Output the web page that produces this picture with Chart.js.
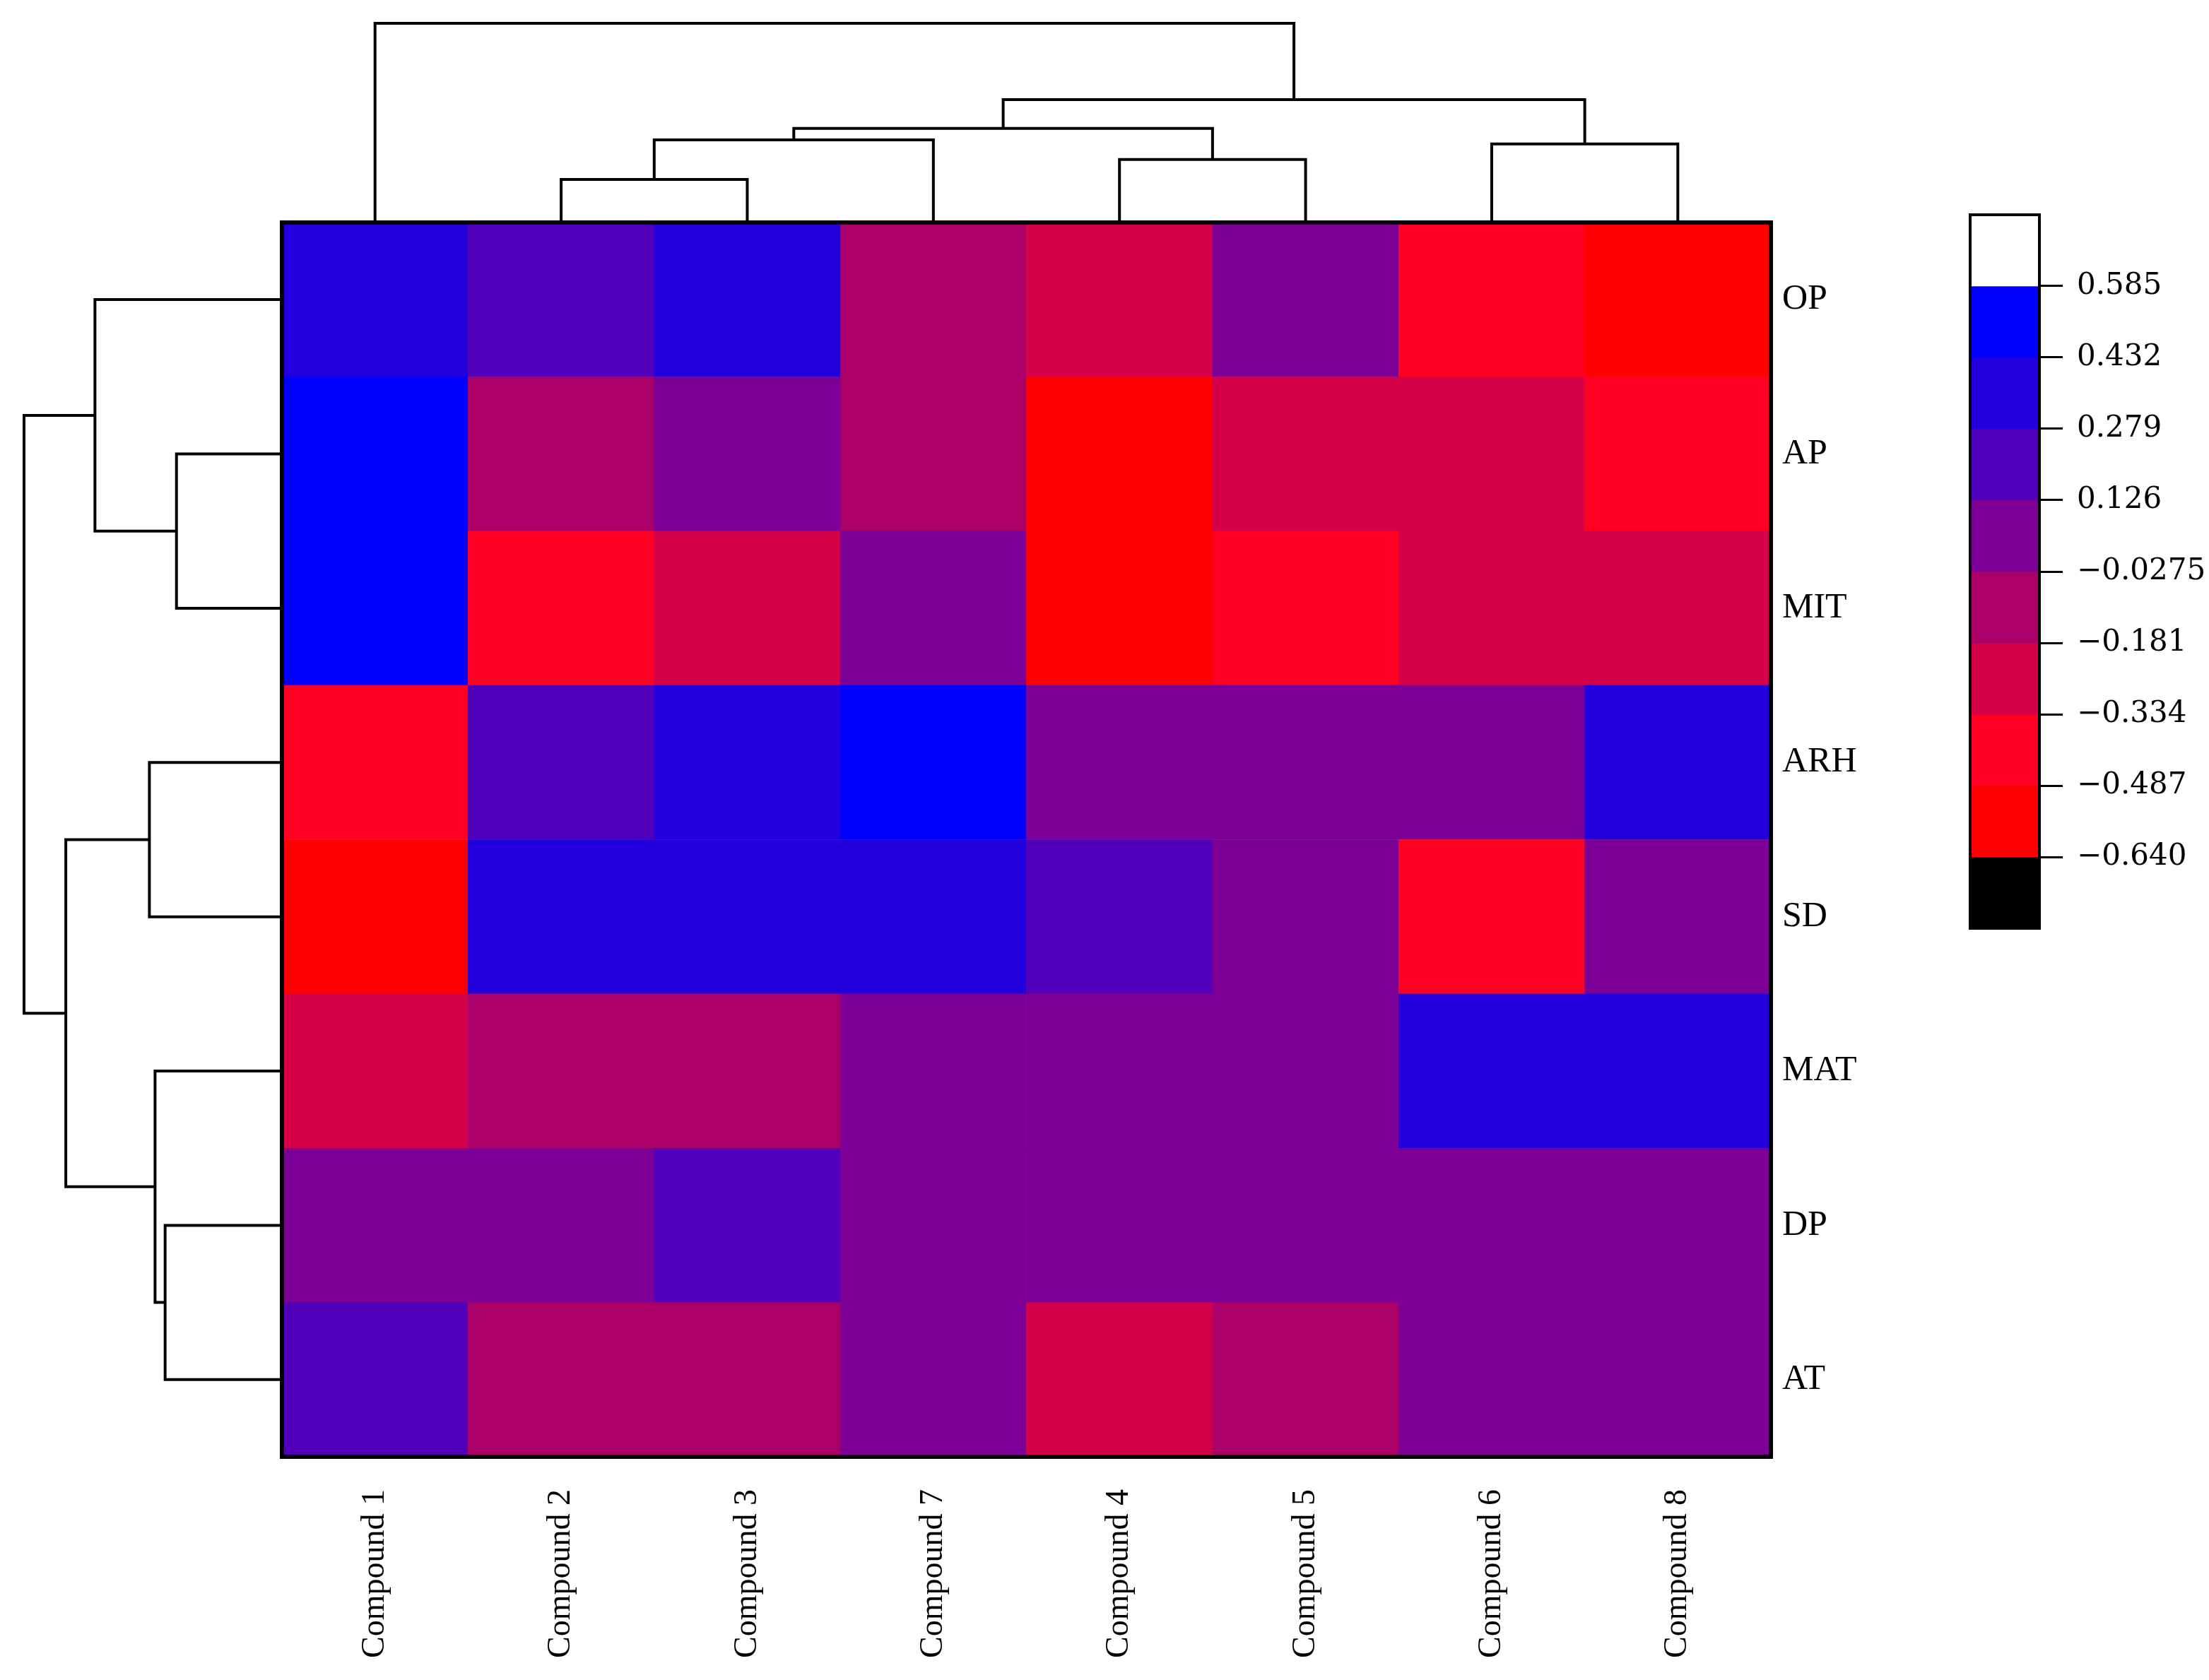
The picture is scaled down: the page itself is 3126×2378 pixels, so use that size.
<!DOCTYPE html>
<html>
<head>
<meta charset="utf-8">
<script src="https://cdn.jsdelivr.net/npm/chart.js@4.4.1/dist/chart.umd.min.js"></script>
<style>
  body { margin: 0; background: #fff; }
  #wrap { position: relative; width: 3126px; height: 2378px; background: #fff; }
  #heat { position: absolute; left: 0; top: 0; }
  #bar { position: absolute; left: 2700px; top: 250px; }
</style>
</head>
<body>
<div id="wrap">
  <canvas id="heat" width="2750" height="2378"></canvas>
  <canvas id="bar" width="426" height="1150"></canvas>
</div>
<script>
// columns and rows in the clustered (displayed) order
const compounds = ['Compound 1', 'Compound 2', 'Compound 3', 'Compound 7', 'Compound 4', 'Compound 5', 'Compound 6', 'Compound 8'];
const traits = ['OP', 'AP', 'MIT', 'ARH', 'SD', 'MAT', 'DP', 'AT'];

// one row per trait, one value per compound
const opVals  = [0.36, 0.21, 0.38, -0.11, -0.25, 0.04, -0.42, -0.57];
const apVals  = [0.52, -0.12, 0.05, -0.10, -0.58, -0.26, -0.24, -0.41];
const mitVals = [0.50, -0.43, -0.27, 0.03, -0.60, -0.45, -0.22, -0.25];
const arhVals = [-0.40, 0.19, 0.33, 0.55, 0.06, 0.07, 0.05, 0.36];
const sdVals  = [-0.59, 0.37, 0.35, 0.34, 0.17, 0.04, -0.44, 0.07];
const matVals = [-0.28, -0.13, -0.12, 0.08, 0.09, 0.08, 0.34, 0.33];
const dpVals  = [0.08, 0.07, 0.18, 0.07, 0.06, 0.07, 0.08, 0.07];
const atVals  = [0.19, -0.14, -0.12, 0.04, -0.26, -0.09, 0.06, 0.05];
const values = [opVals, apVals, mitVals, arhVals, sdVals, matVals, dpVals, atVals];

// linkage: [child a, child b, merge distance]; leaves are 0..7, new clusters numbered from 8
const colLinks = [[1, 2, 0.216], [8, 3, 0.415], [4, 5, 0.316], [9, 10, 0.472], [6, 7, 0.394], [11, 12, 0.617], [0, 13, 1.0]];
const rowLinks = [[1, 2, 0.409], [0, 8, 0.725], [3, 4, 0.514], [6, 7, 0.453], [5, 11, 0.492], [10, 12, 0.838], [9, 13, 1.0]];

// colour key
const cbTicks = [0.585, 0.432, 0.279, 0.126, -0.0275, -0.181, -0.334, -0.487, -0.640];
const cbLabels = ['0.585', '0.432', '0.279', '0.126', '\u22120.0275', '\u22120.181', '\u22120.334', '\u22120.487', '\u22120.640'];
const cbColors = ['#FFFFFF', '#0000FF', '#2200DD', '#5000B9', '#7C0096', '#AA0068', '#D4004A', '#FF0022', '#FF0000', '#000000'];

const topSpan = 1.291;   // room above the grid for the column tree, in row units
const leftSpan = 1.386;  // room left of the grid for the row tree, in column units

function colorFor(v) {
  for (let i = 0; i < cbTicks.length; i++) {
    if (v >= cbTicks[i]) return cbColors[i];
  }
  return cbColors[cbColors.length - 1];
}

function dendroLines(links, nLeaves, place) {
  const pos = [], ht = [];
  for (let i = 0; i < nLeaves; i++) { pos.push(i + 0.5); ht.push(0); }
  return links.map(([a, b, h]) => {
    pos.push((pos[a] + pos[b]) / 2);
    ht.push(h);
    return [place(pos[a], ht[a]), place(pos[a], h), place(pos[b], h), place(pos[b], ht[b])];
  });
}

const cells = [], cellColors = [];
values.forEach((row, r) => {
  row.forEach((v, c) => {
    cells.push({ x: c + 0.5, y: [7 - r, 8 - r] });
    cellColors.push(colorFor(v));
  });
});

const colTree = dendroLines(colLinks, compounds.length, (p, h) => ({ x: p, y: 8 + h * topSpan }));
const rowTree = dendroLines(rowLinks, traits.length, (p, h) => ({ x: -h * leftSpan, y: 8 - p }));

const lineSets = colTree.concat(rowTree).map(pts => ({
  type: 'line',
  data: pts,
  borderColor: '#000',
  borderWidth: 4,
  pointRadius: 0,
  fill: false,
  tension: 0,
  clip: false
}));

const heatBox = {
  id: 'heatBox',
  afterDatasetsDraw(chart) {
    const { ctx, scales: { x, y } } = chart;
    const x0 = x.getPixelForValue(0), x1 = x.getPixelForValue(8);
    const y0 = y.getPixelForValue(8), y1 = y.getPixelForValue(0);
    ctx.save();
    ctx.strokeStyle = '#000';
    ctx.lineWidth = 6;
    ctx.strokeRect(x0, y0, x1 - x0, y1 - y0);
    ctx.restore();
  }
};

new Chart(document.getElementById('heat'), {
  type: 'bar',
  data: {
    datasets: [{
      data: cells,
      backgroundColor: cellColors,
      borderWidth: 0,
      grouped: false,
      barPercentage: 1,
      categoryPercentage: 1
    }].concat(lineSets)
  },
  options: {
    responsive: false,
    animation: false,
    layout: { padding: { top: 33, left: 34, right: 0, bottom: 0 } },
    plugins: { legend: { display: false }, tooltip: { enabled: false } },
    scales: {
      x: {
        type: 'linear',
        min: -leftSpan,
        max: 8,
        offset: false,
        position: 'bottom',
        grid: { display: false, drawTicks: false },
        border: { display: false },
        afterBuildTicks: s => { s.ticks = compounds.map((_, i) => ({ value: i + 0.5 })); },
        afterFit: s => { s.height = 316; s.paddingLeft = 0; s.paddingRight = 0; },
        ticks: {
          autoSkip: false,
          minRotation: 90,
          maxRotation: 90,
          padding: 46,
          color: '#000',
          font: { family: 'Liberation Serif', size: 46 },
          callback: (v, i) => compounds[i]
        }
      },
      y: {
        type: 'linear',
        min: 0,
        max: 8 + topSpan,
        position: 'right',
        grid: { display: false, drawTicks: false },
        border: { display: false },
        afterBuildTicks: s => { s.ticks = traits.map((_, i) => ({ value: 7.5 - i })); },
        afterFit: s => { s.width = 244; s.paddingTop = 0; s.paddingBottom = 0; },
        ticks: {
          autoSkip: false,
          padding: 16,
          color: '#000',
          font: { family: 'Liberation Serif', size: 50 },
          callback: (v, i) => traits[i]
        }
      }
    }
  },
  plugins: [heatBox]
});

// colour key bands: one band above the first tick and one below the last
const step = cbTicks[0] - cbTicks[1];
const edges = [cbTicks[0] + step].concat(cbTicks, [cbTicks[cbTicks.length - 1] - step]);

const keyBox = {
  id: 'keyBox',
  afterDatasetsDraw(chart) {
    const { ctx, chartArea: a } = chart;
    ctx.save();
    ctx.strokeStyle = '#000';
    ctx.lineWidth = 4;
    ctx.strokeRect(a.left, a.top, a.right - a.left, a.bottom - a.top);
    ctx.restore();
  }
};

new Chart(document.getElementById('bar'), {
  type: 'bar',
  data: {
    labels: [''],
    datasets: cbColors.map((c, i) => ({
      data: [[edges[i + 1], edges[i]]],
      backgroundColor: c,
      borderWidth: 0,
      grouped: false,
      barPercentage: 1,
      categoryPercentage: 1
    }))
  },
  options: {
    responsive: false,
    animation: false,
    layout: { padding: { top: 54, left: 88, right: 0, bottom: 86 } },
    plugins: { legend: { display: false }, tooltip: { enabled: false } },
    scales: {
      x: { display: false },
      y: {
        type: 'linear',
        position: 'right',
        min: edges[edges.length - 1],
        max: edges[0],
        grid: { display: true, drawOnChartArea: false, drawTicks: true, tickLength: 33, lineWidth: 3, color: '#000' },
        border: { display: false },
        afterBuildTicks: s => { s.ticks = cbTicks.map(v => ({ value: v })); },
        afterFit: s => { s.width = 240; s.paddingTop = 0; s.paddingBottom = 0; },
        ticks: {
          autoSkip: false,
          padding: 20,
          color: '#000',
          font: { family: 'DejaVu Serif', size: 42 },
          callback: (v, i) => cbLabels[i]
        }
      }
    }
  },
  plugins: [keyBox]
});
</script>
</body>
</html>
